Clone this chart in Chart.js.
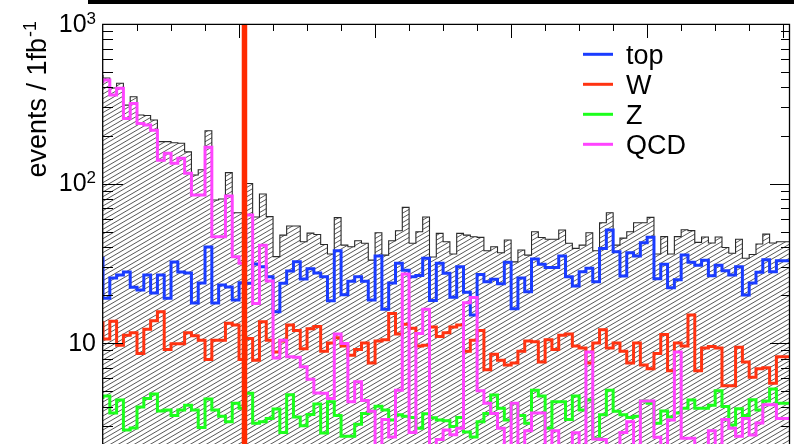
<!DOCTYPE html>
<html><head><meta charset="utf-8">
<script src="https://cdn.jsdelivr.net/npm/chart.js@4.4.1/dist/chart.umd.min.js"></script>
<style>
html,body{margin:0;padding:0;background:#fff;overflow:hidden;}
#wrap{position:relative;width:794px;height:444px;}
#bar{position:absolute;left:88px;top:0;width:706px;height:4px;background:#000;}
canvas{position:absolute;left:0;top:0;}
</style></head><body>
<div id="wrap"><canvas id="c" width="794" height="444"></canvas><div id="bar"></div></div>
<script>
// ---- data (events / 1 fb^-1 per bin, 101 bins) ----
const totalValues = [479, 459, 397, 425, 310, 350, 269, 267, 250, 183,
 183, 180, 179, 158, 113, 122, 214, 78.8, 80, 117,
 65.6, 65.6, 100, 61.7, 86, 62, 34.8, 47.5, 54.2, 54.2,
 43.2, 48.9, 47.9, 41.5, 36.2, 61.1, 41.1, 40.2, 43.8, 42.2,
 33.1, 49.2, 35.6, 43.8, 50.6, 70.9, 42.2, 49.9, 61.7, 34.6,
 48.7, 43.2, 36.2, 48.7, 47.5, 46.4, 46, 37.9, 40.2, 36.8,
 44.3, 32.3, 38.3, 35.6, 49.9, 45.9, 44.7, 44.7, 51.1, 42.2,
 39.2, 41.1, 49.2, 37.9, 56.8, 65.6, 41.1, 45.5, 49.9, 56.8,
 56.8, 61.4, 36.2, 46.5, 36.2, 46.5, 51.3, 50.7, 42.8, 46.2,
 42.4, 46.2, 39.7, 36.6, 44.7, 34, 35.9, 41.8, 48.2, 42.4,
 43.2];
const topValues = [34.8, 19.1, 25.6, 26.7, 27.9, 22.4, 21.5, 26.7, 20.6, 26.7,
 19.1, 32.2, 27.9, 27.5, 17.8, 23.8, 40, 17.8, 23.1, 22.5,
 18.6, 23.9, 23.7, 31.3, 30.1, 26, 15.7, 23.7, 28.3, 32.3,
 25.2, 29.2, 27.5, 26, 18.4, 37.9, 20.1, 24.4, 26, 24.4,
 18.6, 35.1, 16.3, 23.8, 31.6, 28.6, 26, 26.5, 34, 18.5,
 31.6, 27.4, 19.4, 30.1, 20.8, 15, 26.9, 24.2, 25.1, 23.5,
 32.1, 16.4, 25.6, 21, 33.7, 31.2, 29.8, 29.8, 35.1, 26,
 22.8, 28, 29.4, 24.2, 39.2, 51.1, 37.4, 26.3, 36.8, 35.1,
 42.6, 46, 25.3, 31.2, 22.2, 24.9, 35.6, 32.1, 30.8, 33.1,
 26.4, 30.8, 28.4, 26.7, 30.1, 20, 23.8, 27.8, 33.3, 28,
 32.8];
const wValues = [13.7, 10.6, 13.7, 9.7, 11.2, 11.6, 8.6, 12.2, 13.8, 15.7,
 9.1, 9.9, 9.9, 11.6, 11.1, 10.4, 7.9, 10.4, 10.4, 13.3,
 13, 7.9, 10.7, 7.8, 13.6, 10.4, 8.8, 10.3, 13, 12,
 9.2, 12.3, 12.7, 8.9, 10, 10.8, 9.6, 8.4, 9.1, 10,
 7.5, 10.3, 10.5, 15.3, 11.4, 13.1, 12.4, 9.6, 9.7, 12.6,
 11, 11.6, 12.6, 13, 8.9, 10.4, 12, 6.8, 8.5, 7.8,
 7.3, 7.5, 8.9, 10.3, 10.2, 7.6, 10.5, 9.1, 11.2, 11.4,
 9.6, 9.3, 7.5, 10, 12.1, 9.3, 10, 8.9, 7.5, 10,
 7.3, 6.9, 8.6, 11.3, 6.7, 10, 9.6, 15, 6.7, 9.3,
 9.5, 9.3, 5.4, 5.4, 9.4, 7.6, 6.1, 6.9, 7, 5.6,
 8.2];
const zValues = [4.46, 4.65, 3.64, 4.39, 2.85, 2.93, 3.97, 4.5, 4.79, 3.75,
 3.8, 3.51, 3.8, 4.08, 3.8, 2.96, 4.46, 3.8, 3.48, 3.21,
 4.2, 3.91, 4.84, 3.14, 3.21, 3.37, 3.86, 2.75, 4.75, 3.44,
 3.03, 3.57, 4.15, 2.73, 4.28, 3.52, 2.61, 2.61, 3.1, 3.62,
 3.74, 4.02, 3.8, 3.29, 3.56, 3.48, 3.42, 2.92, 3.6, 3.4,
 3.29, 3.26, 3.0, 3.41, 2.77, 2.58, 3.21, 3.62, 4.72, 3.91,
 3.29, 4.18, 3.51, 3.14, 5.07, 4.65, 2.92, 4.28, 4.28, 3.32,
 4.65, 3.8, 4.39, 2.53, 3.56, 5.07, 3.74, 3.56, 3.41, 3.48,
 4.33, 4.2, 3.14, 3.75, 3.44, 3.64, 3.9, 4.39, 3.9, 3.91,
 4.08, 5.02, 4.0, 3.07, 3.87, 3.51, 4.42, 3.8, 4.33, 5.16,
 4.2];
const qcdValues = [425, 446, 359, 395, 256, 318, 238, 233, 216, 140,
 155, 134, 144, 116, 84.7, 84.7, 169, 46.4, 46.4, 83.5,
 34.8, 31.6, 63.5, 17.7, 41.1, 24.5, 8.05, 10.4, 8.2, 8.15,
 7.1, 5.94, 4.86, 4.84, 4.5, 11.4, 9.95, 4.28, 5.72, 4.37,
 3.74, 1.5, 3.32, 2.58, 5.07, 27.1, 2.75, 11.5, 16.3, 1.5,
 2.49, 2.85, 2.66, 2.92, 17.9, 19.3, 5.02, 4.2, 3.62, 2.92,
 1.5, 4.2, 1.5, 2.82, 3.64, 3.64, 1.5, 2.82, 1.5, 1.5,
 2.74, 1.5, 8.8, 2.5, 2.49, 1.5, 1.5, 2.75, 3.21, 1.5,
 4.33, 4.33, 2.57, 1.5, 3.29, 8.8, 2.53, 2.53, 1.5, 1.5,
 2.82, 1.5, 3.32, 2.92, 2.61, 3.37, 2.65, 3.15, 4.1, 4.1,
 3.37];
const seriesNames = ['top', 'W', 'Z', 'QCD'];
const seriesColors = ['#1a3cff', '#ff3311', '#1cff1c', '#ff44ff'];
const cutPosition = 20.8;          // bin position of the vertical cut line
const yAxisMin = 2.33, yAxisMax = 1000;
const yTickValues = [10, 100, 1000];
const yTickBases = ['10', '10', '10'];
const yTickExps = ['', '2', '3'];
const yTitle = 'events / 1fb';
const yTitleExp = '-1';

// ---- helpers ----
function toSteps(vals){
  const pts = vals.map((v,i)=>({x:i, y:v}));
  pts.push({x:vals.length, y:vals[vals.length-1]});
  return pts;
}
function makeHatch(){
  const w=24,h=14;
  const c=document.createElement('canvas'); c.width=w; c.height=h;
  const g=c.getContext('2d');
  g.strokeStyle='#3a3a3a'; g.lineWidth=0.85;
  for(let k=-4;k<=10;k++){
    const cc=k/3;
    g.beginPath();
    g.moveTo(w*cc + w, -h);
    g.lineTo(w*cc - 2*w, 2*h);
    g.stroke();
  }
  return g.createPattern(c,'repeat');
}
const FONT = '"Liberation Sans", Arial, Helvetica, sans-serif';

const rootAxes = {
  id:'rootAxes',
  afterDraw(chart){
    const {ctx, chartArea:ca, scales} = chart;
    const xs = scales.x, ys = scales.y;
    ctx.save();
    // frame
    ctx.strokeStyle='#000'; ctx.lineWidth=1.3;
    ctx.beginPath();
    ctx.moveTo(ca.left-0.3, ca.bottom+10);
    ctx.lineTo(ca.left-0.3, ca.top+0.3);
    ctx.lineTo(ca.right-0.5, ca.top+0.3);
    ctx.lineTo(ca.right-0.5, ca.bottom+10);
    ctx.stroke();
    // y ticks (left & right, inward)
    ctx.lineWidth=1;
    ctx.beginPath();
    for(const d of [1,10,100]){
      for(let m=1;m<=9;m++){
        const v=d*m;
        if(v<yAxisMin||v>yAxisMax) continue;
        const y=Math.round(ys.getPixelForValue(v))+0.5;
        const major=(m===1);
        ctx.moveTo(ca.left, y); ctx.lineTo(ca.left+(major?20:10), y);
        ctx.moveTo(ca.right, y); ctx.lineTo(ca.right-(major?20:9), y);
      }
    }
    // x ticks at top
    for(let k=0;k<=101;k+=5){
      const x=Math.round(xs.getPixelForValue(k))+0.5;
      if(x<ca.left+1||x>ca.right-1) continue;
      ctx.moveTo(x, ca.top); ctx.lineTo(x, ca.top+(k%20===0?14:7));
    }
    ctx.stroke();
    // y tick labels
    ctx.fillStyle='#000';
    ctx.textBaseline='alphabetic';
    ctx.textAlign='left';
    for(let i=0;i<yTickValues.length;i++){
      const yc=ys.getPixelForValue(yTickValues[i])-1.5;
      ctx.font='17px '+FONT;
      const ew=yTickExps[i]?ctx.measureText(yTickExps[i]).width:0;
      ctx.font='25px '+FONT;
      const bw=ctx.measureText(yTickBases[i]).width;
      const right=96;
      ctx.fillText(yTickBases[i], right-ew-bw, yc+9);
      if(yTickExps[i]){
        ctx.font='17px '+FONT;
        ctx.fillText(yTickExps[i], right-ew, yc+1);
      }
    }
    // y title (rotated)
    ctx.save();
    ctx.translate(45.5, 0);
    ctx.rotate(-Math.PI/2);
    ctx.font='27px '+FONT;
    ctx.textAlign='right';
    ctx.fillText(yTitle, -38, 0);
    ctx.font='18px '+FONT;
    ctx.textAlign='left';
    ctx.fillText(yTitleExp, -37, -10);
    ctx.restore();
    // legend
    for(let i=0;i<seriesNames.length;i++){
      const ly=54.3+30*i;
      ctx.strokeStyle=seriesColors[i]; ctx.lineWidth=3;
      ctx.beginPath(); ctx.moveTo(583, ly); ctx.lineTo(613, ly); ctx.stroke();
      ctx.fillStyle='#000';
      ctx.font='27px '+FONT;
      ctx.textAlign='left';
      ctx.fillText(seriesNames[i], 626, ly+9.7);
    }
    ctx.restore();
  }
};

const ctx = document.getElementById('c').getContext('2d');
const hatch = makeHatch();
const seriesData = [topValues, wValues, zValues, qcdValues];
const datasets = [{
  label:'total', data:toSteps(totalValues), stepped:'after',
  borderColor:'#2a2a2a', borderWidth:1.1, fill:'start', backgroundColor:hatch,
  pointRadius:0, order:10
}];
seriesData.forEach((vals,i)=>{
  datasets.push({label:seriesNames[i], data:toSteps(vals), stepped:'after',
    borderColor:seriesColors[i], borderWidth:3, fill:false, pointRadius:0,
    borderJoinStyle:'miter', borderCapStyle:'butt', order:5-i});
});
datasets.push({label:'cut', data:[{x:cutPosition,y:0.01},{x:cutPosition,y:1e5}],
  borderColor:'#ff2a00', borderWidth:5.5, pointRadius:0, fill:false, order:0});

new Chart(ctx, {
  type:'line',
  data:{datasets},
  options:{
    responsive:false, animation:false, devicePixelRatio:1,
    layout:{padding:{left:103, top:24, right:4, bottom:0}},
    plugins:{legend:{display:false}, tooltip:{enabled:false}},
    elements:{line:{tension:0}},
    scales:{
      x:{type:'linear', min:0, max:totalValues.length, display:false},
      y:{type:'logarithmic', min:yAxisMin, max:yAxisMax, display:false}
    }
  },
  plugins:[rootAxes]
});
</script>
</body></html>
